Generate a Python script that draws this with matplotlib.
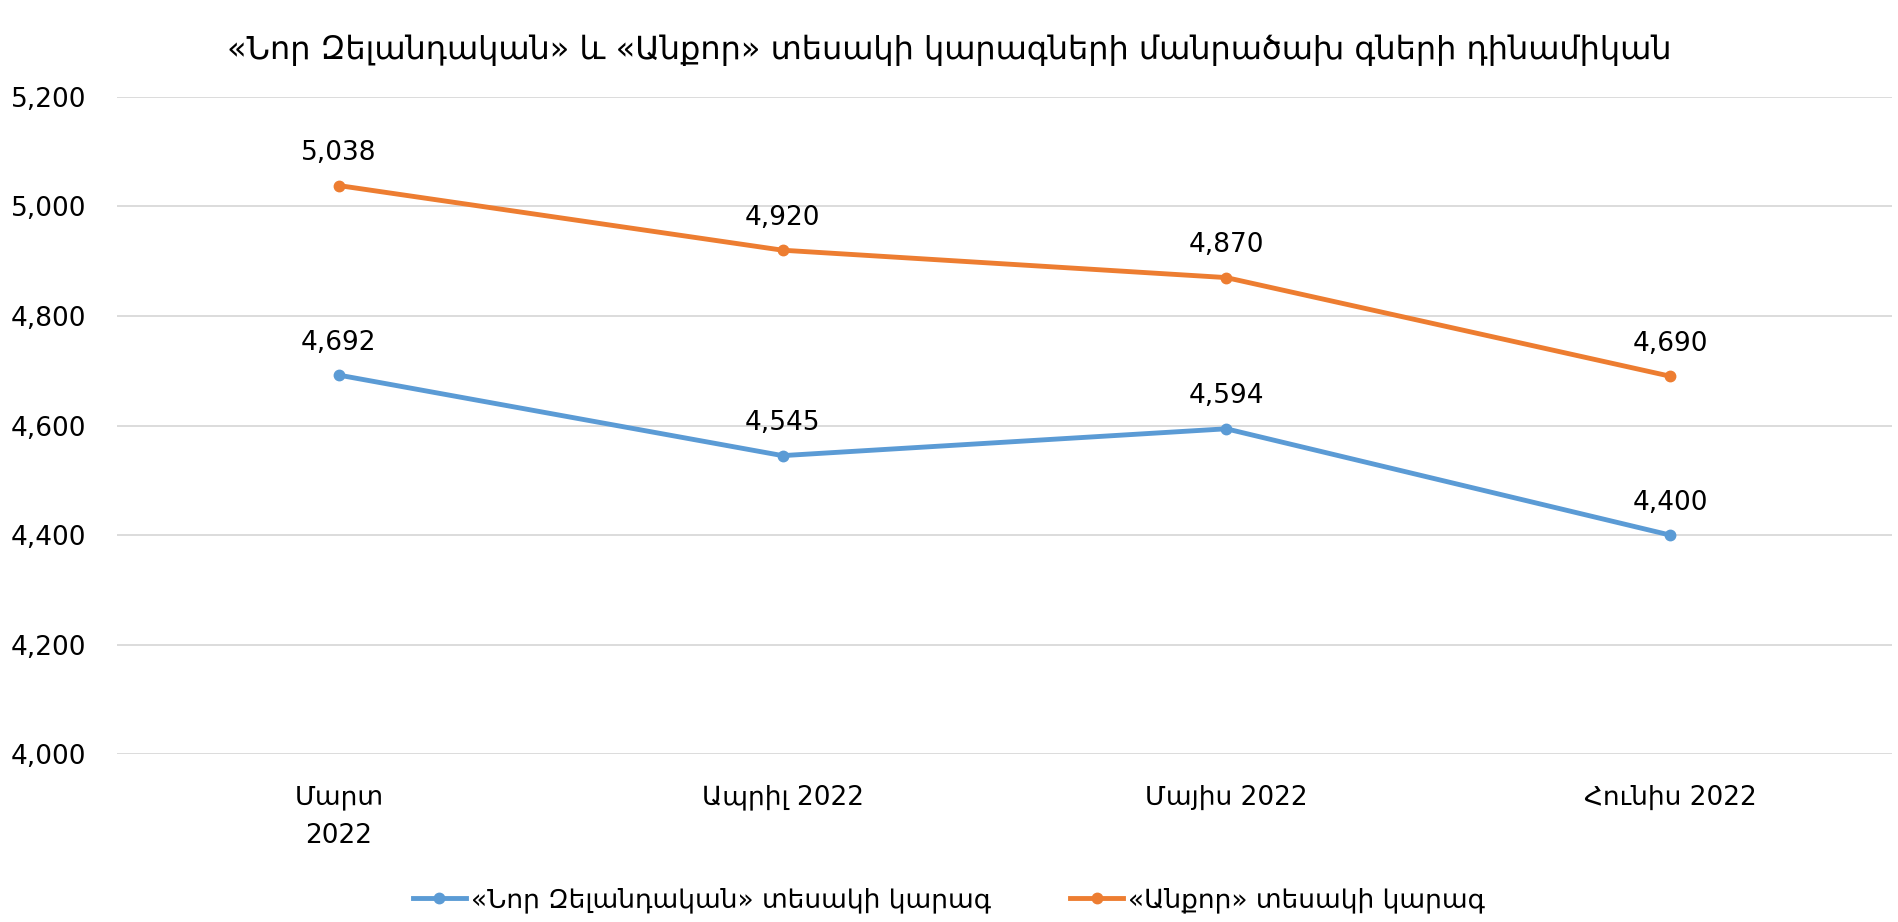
import matplotlib
matplotlib.use("Agg")
import matplotlib.pyplot as plt
from matplotlib.ticker import FuncFormatter, MultipleLocator

plt.rcParams['font.family'] = ['DejaVu Sans']

categories = ["Մարտ\n2022", "Ապրիլ 2022", "Մայիս 2022", "Հունիս 2022"]
nz_values = [4692, 4545, 4594, 4400]
ank_values = [5038, 4920, 4870, 4690]
nz_label = "«Նոր Զելանդական» տեսակի կարագ"
ank_label = "«Անքոր» տեսակի կարագ"
title = "«Նոր Զելանդական» և «Անքոր» տեսակի կարագների մանրածախ գների դինամիկան"

fig = plt.figure(figsize=(18.98, 9.22), dpi=100)
ax = fig.add_axes([0.0616, 0.182, 0.9352, 0.713])

x = list(range(len(categories)))
blue = "#5B9BD5"
orange = "#ED7D31"
ax.plot(x, nz_values, color=blue, lw=3.5, marker="o", ms=7.5, label=nz_label, zorder=3)
ax.plot(x, ank_values, color=orange, lw=3.5, marker="o", ms=7.5, label=ank_label, zorder=3)

for xi, v in zip(x, nz_values):
    ax.annotate(f"{v:,}", (xi, v), xytext=(0, 14), textcoords="offset points",
                ha="center", va="bottom", fontsize=19)
for xi, v in zip(x, ank_values):
    ax.annotate(f"{v:,}", (xi, v), xytext=(0, 14), textcoords="offset points",
                ha="center", va="bottom", fontsize=19)

ax.set_xlim(-0.5, 3.5)
ax.set_ylim(4000, 5200)
ax.yaxis.set_major_locator(MultipleLocator(200))
ax.yaxis.set_major_formatter(FuncFormatter(lambda v, p: f"{int(v):,}"))
ax.set_xticks(x)
ax.set_xticklabels(categories, fontsize=19, linespacing=1.6)
ax.tick_params(axis="y", labelsize=19, length=0, pad=22)
ax.tick_params(axis="x", length=0, pad=22)
ax.grid(axis="y", color="#D9D9D9", lw=1.3)
ax.set_axisbelow(True)
for s in ax.spines.values():
    s.set_visible(False)

fig.suptitle(title, fontsize=23, y=0.963)
fig.legend(loc="lower center", bbox_to_anchor=(0.5, -0.016), ncol=2, frameon=False,
           fontsize=19, handlelength=2.0, columnspacing=3.0, handletextpad=0.2)

fig.savefig("out.png", dpi=100, facecolor="white")
